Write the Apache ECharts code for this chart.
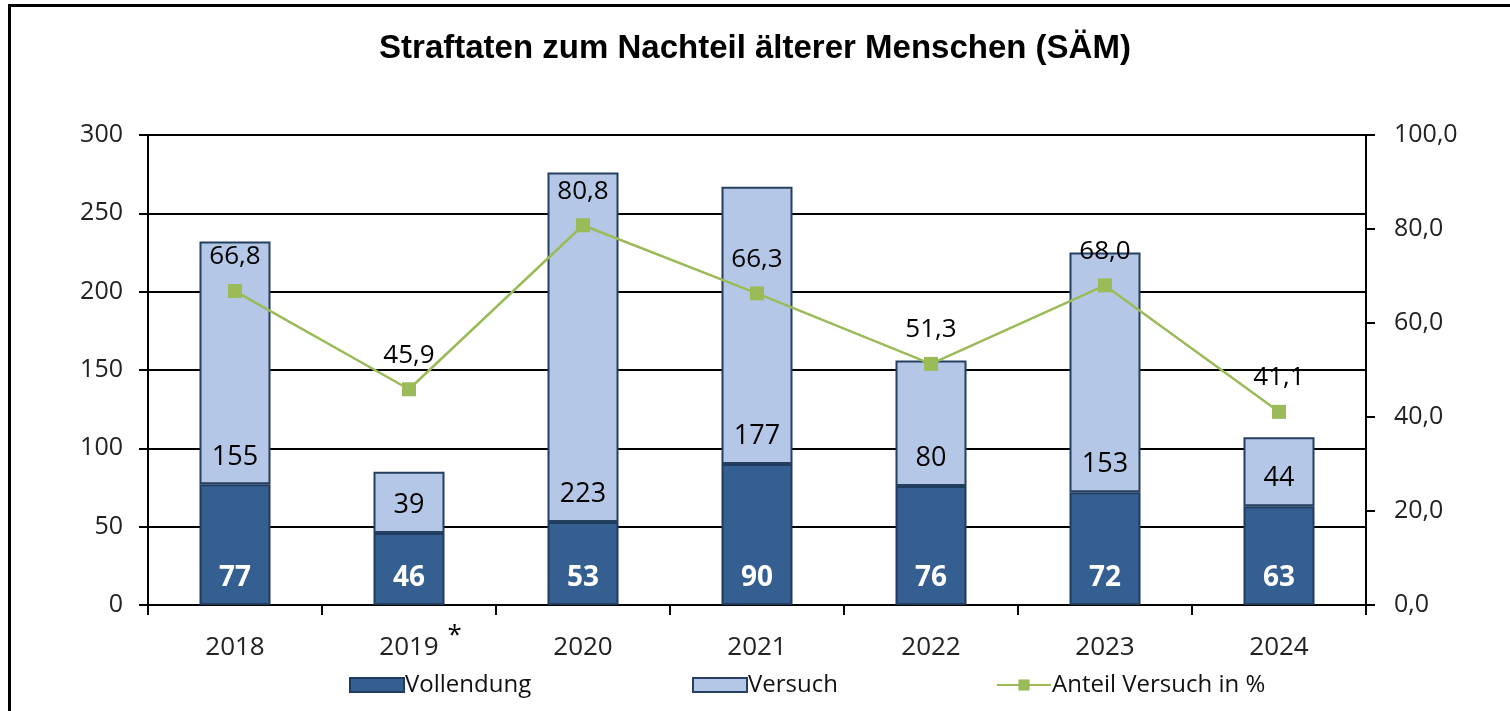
<!DOCTYPE html>
<html>
<head>
<meta charset="utf-8">
<script src="https://cdn.jsdelivr.net/npm/echarts@6/dist/echarts.min.js"></script>
<style>
html, body { margin: 0; padding: 0; background: #fff; }
#chart { width: 1510px; height: 711px; }
</style>
</head>
<body>
<div id="chart"></div>
<script>
const years = ['2018', '2019', '2020', '2021', '2022', '2023', '2024'];
const vollendung = [77, 46, 53, 90, 76, 72, 63];
const versuch = [155, 39, 223, 177, 80, 153, 44];
const anteil = [66.8, 45.9, 80.8, 66.3, 51.3, 68.0, 41.1];
const markedYear = '2019';

const font = '"Open Sans", sans-serif';
const fmt1 = v => v.toFixed(1).replace('.', ',');

const chart = echarts.init(document.getElementById('chart'), null, { renderer: 'canvas' });

const option = {
    animation: false,
    backgroundColor: '#fff',
    textStyle: { fontFamily: font },
    graphic: [{
        type: 'rect',
        shape: { x: 9.5, y: 5.5, width: 1600, height: 800 },
        style: { fill: 'none', stroke: '#000', lineWidth: 3 },
        silent: true
    }],
    title: {
        text: 'Straftaten zum Nachteil älterer Menschen (SÄM)',
        left: 'center',
        top: 27,
        textStyle: {
            fontFamily: '"Liberation Sans", Arial, sans-serif',
            fontWeight: 'bold',
            fontSize: 33,
            color: '#000'
        }
    },
    grid: { left: 148, right: 144, top: 135, bottom: 106, containLabel: false },
    legend: [
        { data: [{ name: 'Vollendung', icon: 'rect' }], left: 349, top: 673 },
        { data: [{ name: 'Versuch', icon: 'rect' }], left: 692, top: 673 },
        { data: ['Anteil Versuch in %'], left: 996, top: 673 }
    ].map(l => Object.assign(l, {
        padding: 0,
        itemWidth: 54,
        itemHeight: 14,
        textStyle: { fontFamily: font, fontSize: 24, color: '#111', padding: [0, 0, 0, -4] }
    })),
    xAxis: {
        type: 'category',
        data: years,
        axisLine: { lineStyle: { color: '#000', width: 2 } },
        axisTick: { show: true, interval: 0, length: 10, lineStyle: { color: '#000', width: 2 } },
        axisLabel: {
            interval: 0,
            color: '#222',
            fontSize: 26,
            lineHeight: 50,
            margin: 18,
            formatter: v => v === markedYear ? '{pad| }' + v + '{sup|*}' : v,
            rich: {
                pad: { width: 23 },
                sup: { width: 23, align: 'right', fontSize: 26, lineHeight: 24, verticalAlign: 'top', color: '#000' }
            }
        }
    },
    yAxis: [{
        type: 'value',
        min: 0,
        max: 300,
        interval: 50,
        axisLine: { show: true, lineStyle: { color: '#000', width: 2 } },
        axisTick: { show: true, length: 9, lineStyle: { color: '#000', width: 2 } },
        axisLabel: { color: '#222', fontSize: 25, margin: 25 },
        splitLine: { show: true, lineStyle: { color: '#000', width: 2 } }
    }, {
        type: 'value',
        min: 0,
        max: 100,
        interval: 20,
        position: 'right',
        axisLine: { show: true, lineStyle: { color: '#000', width: 2 } },
        axisTick: { show: true, length: 9, lineStyle: { color: '#000', width: 2 } },
        axisLabel: { color: '#222', fontSize: 25, margin: 28, formatter: fmt1 },
        splitLine: { show: false }
    }],
    series: [{
        name: 'Vollendung',
        type: 'bar',
        stack: 'total',
        barWidth: 71,
        data: vollendung,
        itemStyle: { color: '#365F91', borderColor: '#1F3B5E', borderWidth: 2 },
        label: {
            show: true,
            position: 'insideBottom',
            distance: 13,
            color: '#fff',
            fontWeight: 'bold',
            fontSize: 28
        }
    }, {
        name: 'Versuch',
        type: 'bar',
        stack: 'total',
        barWidth: 71,
        data: versuch,
        itemStyle: { color: '#B4C7E7', borderColor: '#243F60', borderWidth: 2 },
        label: {
            show: true,
            position: 'insideBottom',
            distance: 14,
            color: '#000',
            fontSize: 27
        }
    }, {
        name: 'Anteil Versuch in %',
        type: 'line',
        yAxisIndex: 1,
        data: anteil,
        symbol: 'rect',
        symbolSize: 14,
        lineStyle: { color: '#9BBB59', width: 2.5 },
        itemStyle: { color: '#9BBB59' },
        label: {
            show: true,
            position: 'top',
            distance: 14,
            color: '#000',
            fontSize: 26,
            formatter: p => fmt1(p.value)
        },
        z: 5
    }]
};

chart.setOption(option);
</script>
</body>
</html>
